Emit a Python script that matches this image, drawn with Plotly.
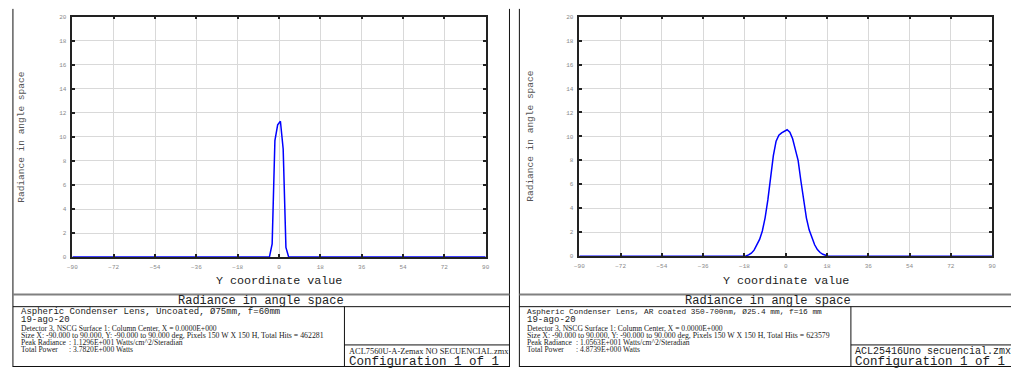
import plotly.graph_objects as go

W, H = 1011, 371

# ---------------- data ----------------
x_ticks = [-90, -72, -54, -36, -18, 0, 18, 36, 54, 72, 90]
y_ticks = [0, 2, 4, 6, 8, 10, 12, 14, 16, 18, 20]

left_x = [-90, -4.2, -3.0, -1.8, -0.6, 0.6, 1.8, 3.0, 4.2, 90]
left_y = [0, 0, 1.1, 9.7, 11.0, 11.3, 9.0, 0.8, 0, 0]

right_x = [-90, -18.6, -17.4, -16.2, -15.0, -13.8, -12.6, -11.4, -10.2, -9.0, -7.8,
           -6.6, -5.4, -4.2, -3.0, -1.8, -0.6, 0.6, 1.8, 3.0, 4.2, 5.4, 6.6, 7.8,
           9.0, 10.2, 11.4, 12.6, 13.8, 15.0, 16.2, 17.4, 18.6, 90]
right_y = [0, 0, 0.02, 0.1, 0.25, 0.5, 0.9, 1.4, 2.1, 3.2, 4.7,
           6.6, 8.4, 9.6, 10.1, 10.3, 10.45, 10.56, 10.35, 9.8, 8.9, 8.0, 6.3, 4.6,
           3.2, 2.2, 1.5, 0.95, 0.55, 0.3, 0.15, 0.05, 0, 0]

panel_titles = ["Aspheric Condenser Lens, Uncoated, Ø75mm, f=60mm",
                "Aspheric Condenser Lens, AR coated 350-700nm, Ø25.4 mm, f=16 mm"]
dates = ["19-ago-20", "19-ago-20"]
detector_lines = ["Detector 3, NSCG Surface 1: Column Center, X = 0.0000E+000",
                  "Detector 3, NSCG Surface 1: Column Center, X = 0.0000E+000"]
size_lines = ["Size X: -90.000 to 90.000, Y: -90.000 to 90.000 deg, Pixels 150 W X 150 H, Total Hits = 462281",
              "Size X: -90.000 to 90.000, Y: -90.000 to 90.000 deg, Pixels 150 W X 150 H, Total Hits = 623579"]
peak_values = ["1.1296E+001 Watts/cm^2/Steradian", "1.0563E+001 Watts/cm^2/Steradian"]
power_values = ["3.7820E+000 Watts", "4.8739E+000 Watts"]
file_names = ["ACL7560U-A-Zemax NO SECUENCIAL.zmx", "ACL25416Uno secuencial.zmx"]
configs = ["Configuration 1 of 1", "Configuration 1 of 1"]
x_title = "Y coordinate value"
y_title = "Radiance in angle space"
chart_title = "Radiance in angle space"


def px(x):
    return x / W


def py(y):
    return 1 - y / H


MONO = "Liberation Mono"
SERIF = "Liberation Serif"
TICK = dict(family="Liberation Mono", size=6, color="#8a8a8a")

fig = go.Figure()
fig.add_trace(go.Scatter(x=left_x, y=left_y, mode="lines",
                         line=dict(color="#0000ff", width=1.5),
                         xaxis="x", yaxis="y", showlegend=False))
fig.add_trace(go.Scatter(x=right_x, y=right_y, mode="lines",
                         line=dict(color="#0000ff", width=1.5),
                         xaxis="x2", yaxis="y2", showlegend=False))

common_axis = dict(showgrid=True, gridcolor="#d9d9d9", gridwidth=1,
                   showline=True, linecolor="#222", linewidth=1.5,
                   mirror="ticks", ticks="inside", ticklen=3, tickcolor="#222",
                   tickwidth=1.5, zeroline=False, tickfont=TICK,
                   ticklabelstandoff=3, fixedrange=True)

plots = [(68, 485, 14, 259), (579.5, 996, 14, 258)]

layout = dict(width=W, height=H, margin=dict(l=0, r=0, t=0, b=0),
              paper_bgcolor="white", plot_bgcolor="white", showlegend=False)
for i, (x0, x1, y0, y1) in enumerate(plots):
    sfx = "" if i == 0 else "2"
    layout["xaxis" + sfx] = dict(common_axis, domain=[px(x0), px(x1)], range=[-90, 90],
                                 tickvals=x_ticks, anchor="y" + sfx)
    layout["yaxis" + sfx] = dict(common_axis, domain=[py(y1), py(y0)], range=[0, 20],
                                 tickvals=y_ticks, anchor="x" + sfx)
fig.update_layout(**layout)

shapes = []
annotations = []


def hline(x0, x1, y, color="#111", width=1):
    shapes.append(dict(type="line", xref="paper", yref="paper",
                       x0=px(x0), x1=px(x1), y0=py(y), y1=py(y),
                       line=dict(color=color, width=width)))


def vline(x, y0, y1, color="#111", width=1):
    shapes.append(dict(type="line", xref="paper", yref="paper",
                       x0=px(x), x1=px(x), y0=py(y0), y1=py(y1),
                       line=dict(color=color, width=width)))


def text(x, y, s, family, size, color="#222", anchor="left", angle=0):
    annotations.append(dict(xref="paper", yref="paper", x=px(x), y=py(y), text=s,
                            showarrow=False, xanchor=anchor, yanchor="middle",
                            textangle=angle, borderpad=0,
                            font=dict(family=family, size=size, color=color)))


ytitle_x = [17, 530]
for i in range(2):
    off = 0 if i == 0 else 511
    left, right = 8 + off, 509 + off
    x0, x1, y0, y1 = plots[i]
    vline(left, 6, 371)
    vline(right, 6, 371)
    hline(left, right, 297, color="#808080", width=2)
    hline(left, right, 309.5)
    vline(342.5 + off, 309.5, 371)
    hline(342.5 + off, right, 348.5)
    hline(left, right, 370.5)

    text(ytitle_x[i], (y0 + y1) / 2, y_title, MONO, 9.5, color="#555", anchor="center", angle=-90)
    text((x0 + x1) / 2, 283, x_title, MONO, 11.7, anchor="center")
    text((left + right) / 2, 303.5, chart_title, MONO, 12, anchor="center")

    tsize = 9.0 if i == 0 else 7.8
    text(15 + off, 314.8, panel_titles[i], MONO, tsize)
    text(15 + off, 323.6, dates[i], MONO, 9)
    text(15 + off, 331.6, detector_lines[i], SERIF, 7.6)
    text(15 + off, 338.6, size_lines[i], SERIF, 7.8)
    text(15 + off, 345.6, "Peak Radiance", SERIF, 7.6)
    text(64 + off, 345.6, ": " + peak_values[i], SERIF, 7.6)
    text(15 + off, 353, "Total Power", SERIF, 7.6)
    text(64 + off, 353, ": " + power_values[i], SERIF, 7.6)
    if i == 0:
        text(346 + off, 355.5, file_names[i], SERIF, 8.4)
    else:
        text(346 + off, 355.5, file_names[i], MONO, 10)
    text(346 + off, 366, configs[i], MONO, 12.5)

fig.update_layout(shapes=shapes, annotations=annotations)
fig.write_html("out.html", config={"displayModeBar": False},
               post_script="document.body.style.margin='0';document.body.style.overflow='hidden';")
